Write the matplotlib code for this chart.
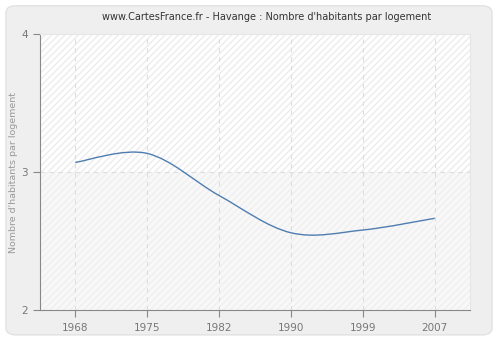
import matplotlib
matplotlib.use("Agg")
import matplotlib.pyplot as plt
from matplotlib.patches import FancyBboxPatch, Rectangle, PathPatch
from matplotlib.path import Path

years = ["1968", "1975", "1982", "1990", "1999", "2007"]
values = [3.07, 3.135, 2.83, 2.56, 2.58, 2.665]

title = "www.CartesFrance.fr - Havange : Nombre d'habitants par logement"
ylabel = "Nombre d'habitants par logement"


def smooth_path(xs, ys):
    # cubic bezier through each point, catmull-rom tangents
    n = len(xs)
    verts = [(xs[0], ys[0])]
    codes = [Path.MOVETO]
    for i in range(n - 1):
        p0 = max(i - 1, 0)
        p3 = min(i + 2, n - 1)
        c1 = (xs[i] + (xs[i + 1] - xs[p0]) / 6, ys[i] + (ys[i + 1] - ys[p0]) / 6)
        c2 = (xs[i + 1] - (xs[p3] - xs[i]) / 6, ys[i + 1] - (ys[p3] - ys[i]) / 6)
        verts += [c1, c2, (xs[i + 1], ys[i + 1])]
        codes += [Path.CURVE4] * 3
    return Path(verts, codes)


fig = plt.figure(figsize=(5, 3.4), dpi=100, facecolor="white")

# rounded grey panel behind everything
panel = FancyBboxPatch((0.012, 0.015), 0.972, 0.968,
                       boxstyle="round,pad=0,rounding_size=0.02",
                       transform=fig.transFigure, facecolor="#efefef",
                       edgecolor="#e2e2e2", linewidth=1, zorder=-5)
fig.patches.append(panel)

ax = fig.add_axes([0.08, 0.088, 0.86, 0.812])
ax.set_facecolor("none")

x = list(range(len(years)))
ax.set_xlim(-0.49, 5.49)
ax.set_ylim(2, 4)

# hatched background, lower half slightly greyer
ax.add_patch(Rectangle((-0.49, 3), 5.98, 1, facecolor="white",
                       edgecolor="#ececec", hatch="/////", linewidth=0, zorder=0))
ax.add_patch(Rectangle((-0.49, 2), 5.98, 1, facecolor="#f8f8f8",
                       edgecolor="#efefef", hatch="/////", linewidth=0, zorder=0))

for xi in x:
    ax.axvline(xi, color="#dddddd", linestyle=(0, (4, 4)), linewidth=0.8, zorder=1)
ax.axhline(3, color="#dddddd", linestyle=(0, (4, 4)), linewidth=0.8, zorder=1)

ax.add_patch(PathPatch(smooth_path(x, values), facecolor="none",
                       edgecolor="#4f7db0", linewidth=1.0, zorder=3))

ax.set_xticks(x)
ax.set_xticklabels(years)
ax.set_yticks([2, 3, 4])
ax.tick_params(axis="both", colors="#888888", labelcolor="#777777",
               labelsize=7.5, length=5, width=0.8)
ax.tick_params(axis="x", pad=4)

for side in ["left", "bottom"]:
    ax.spines[side].set_color("#888888")
for side in ["top", "right"]:
    ax.spines[side].set_color("#e6e6e6")

fig.text(0.534, 0.95, title, fontsize=7, color="#333333", ha="center", va="center")
ax.set_ylabel(ylabel, fontsize=6.8, color="#999999", labelpad=2.5)

plt.savefig("out.png", dpi=100)
